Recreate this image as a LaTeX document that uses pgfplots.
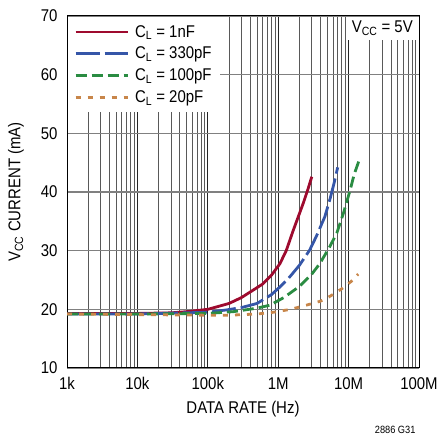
\documentclass[border=0pt]{standalone}
\usepackage{fontspec}
\setmainfont{Liberation Sans}[FakeStretch=0.88]
\usepackage{pgfplots}
\pgfplotsset{compat=1.18}
\definecolor{cred}{HTML}{9E0A2E}
\definecolor{cblue}{HTML}{3556A8}
\definecolor{cgreen}{HTML}{2A8C42}
\definecolor{corange}{HTML}{C8864A}
\begin{document}
\begin{tikzpicture}
\path[use as bounding box] (0,0) rectangle (439pt,438pt);
\begin{axis}[
  at={(67pt,70pt)}, anchor=south west,
  scale only axis, width=352pt, height=352pt,
  xmode=log, xmin=1e3, xmax=1e8, ymin=10, ymax=70,
  log basis x=10,
  xtick={1e3,1e4,1e5,1e6,1e7,1e8},
  minor xtick={2e3,3e3,4e3,5e3,6e3,7e3,8e3,9e3,
    2e4,3e4,4e4,5e4,6e4,7e4,8e4,9e4,
    2e5,3e5,4e5,5e5,6e5,7e5,8e5,9e5,
    2e6,3e6,4e6,5e6,6e6,7e6,8e6,9e6,
    2e7,3e7,4e7,5e7,6e7,7e7,8e7,9e7},
  xticklabels={1k,10k,100k,1M,10M,100M},
  ytick={10,20,...,70},
  /pgf/number format/assume math mode=true,
  major tick length=0pt, minor tick length=0pt,
  xmajorgrids, xminorgrids, ymajorgrids,
  major x grid style={black!85, line width=0.7pt},
  minor x grid style={black!65, line width=0.7pt},
  major y grid style={black!50, line width=1.1pt},
  axis line style={black, line width=1pt},
  tick label style={font=\fontsize{17}{19}\selectfont},
  xticklabel style={yshift=-6pt},
  yticklabel style={xshift=-6pt},
  label style={font=\fontsize{17}{19}\selectfont},
  xlabel={DATA RATE (Hz)},
  ylabel={V\textsubscript{CC} CURRENT (mA)},
  xlabel style={yshift=-4pt},
  ylabel style={yshift=10pt},
  legend cell align=left,
  legend style={at={(0.003,0.997)}, anchor=north west, draw=none, fill=white,
    font=\fontsize{17}{19}\selectfont, row sep=4.5pt, inner xsep=6pt, inner ysep=6pt},
  legend image code/.code={\draw[#1, line width=2.8pt] (0pt,0pt) -- (52pt,0pt); \path (56pt,0pt);},
]
\addplot[cred, line width=2.8pt] coordinates {
(1e3,19.3) (1e4,19.3) (3e4,19.4) (5e4,19.6) (1e5,20.0) (2e5,21.0) (3e5,22.0) (6e5,24.3) (8e5,25.8) (1.06e6,27.8) (1.3e6,30.0) (1.64e6,33.5) (2e6,36.3) (2.27e6,38.1) (2.65e6,40.5) (3e6,42.6)};
\addlegendentry{C\textsubscript{L} = 1nF}
\addplot[cblue, line width=2.8pt, dash pattern=on 24pt off 5pt] coordinates {
(1e3,19.2) (1e4,19.2) (1e5,19.5) (1.85e5,19.9) (3e5,20.3) (5e5,21.0) (8e5,22.5) (1.1e6,24.0) (1.5e6,25.7) (2e6,27.5) (2.8e6,30.1) (3.5e6,32.5) (4.6e6,35.8) (5.5e6,39.0) (6.3e6,41.8) (7e6,44.2)};
\addlegendentry{C\textsubscript{L} = 330pF}
\addplot[cgreen, line width=2.8pt, dash pattern=on 11pt off 5pt] coordinates {
(1e3,19.2) (1e4,19.2) (1e5,19.3) (2.3e5,19.6) (5e5,20.2) (7.6e5,20.7) (1.2e6,22.0) (2e6,23.9) (3e6,26.0) (3.9e6,27.8) (5.3e6,30.5) (6.8e6,33.0) (8.5e6,36.5) (1.05e7,40.3) (1.2e7,43.0) (1.4e7,45.3)};
\addlegendentry{C\textsubscript{L} = 100pF}
\addplot[corange, line width=2.8pt, dash pattern=on 5pt off 7pt] coordinates {
(1e3,19.2) (1e4,19.1) (1e5,19.0) (2e5,19.0) (5e5,19.2) (8.5e5,19.5) (1.5e6,20.0) (2.5e6,20.7) (4e6,21.4) (5.4e6,22.2) (8e6,23.5) (1.1e7,24.8) (1.37e7,26.0)};
\addlegendentry{C\textsubscript{L} = 20pF}
\node[anchor=north east, fill=white, inner xsep=5pt, inner ysep=4pt, font=\fontsize{17}{19}\selectfont] at (rel axis cs:0.997,0.997) {V\textsubscript{CC} = 5V};
\end{axis}
\node[anchor=east, font=\fontsize{10.5}{12}\selectfont] at (419pt,8pt) {2886 G31};
\end{tikzpicture}
\end{document}
